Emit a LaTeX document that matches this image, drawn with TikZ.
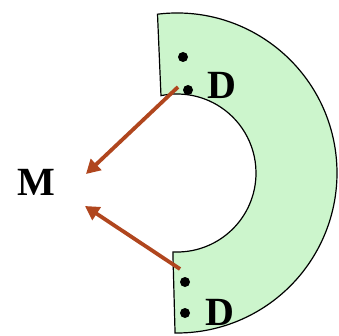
\documentclass[tikz,border=0pt]{standalone}
\usepackage{fontspec}
\setmainfont{Liberation Serif}
\usetikzlibrary{arrows.meta,calc}
\definecolor{ringgreen}{RGB}{204,245,204}
\definecolor{arrowbrown}{RGB}{176,70,30}
\begin{document}
\begin{tikzpicture}[
  x=1pt, y=1pt,
  dot/.style={circle,fill=black,inner sep=0pt,minimum size=10pt},
  lbl/.style={font=\fontsize{40}{42}\selectfont\bfseries,inner sep=0pt},
  flow/.style={arrowbrown,line width=3.8pt,-{Triangle[length=14pt,width=15pt]}}
]
  \useasboundingbox (0,0) rectangle (339,335);
  % half ring
  \coordinate (c) at (177,162);
  \filldraw[fill=ringgreen,draw=black,line width=1.2pt]
    ($(c)+(97:160)$) arc (97:-90.7:160) -- ($(c)+(-93:79)$)
    arc (-93:101.7:79) -- cycle;

  \node[dot] (d1) at (183,278) {};
  \node[dot] (d2) at (188,245) {};
  \node[dot] (d3) at (185,53)  {};
  \node[dot] (d4) at (185,22)  {};
  \node[lbl] (dtop) at (222,250) {D};
  \node[lbl] (dbot) at (220,23)  {D};
  \node[lbl] (m) at (36,153) {M};

  \coordinate (s1) at (178,248);
  \coordinate (s2) at (180,66);
  \coordinate (t1) at (86,161);
  \coordinate (t2) at (85,129);
  \draw[flow] (s1) -- (t1);
  \draw[flow] (s2) -- (t2);
\end{tikzpicture}
\end{document}
